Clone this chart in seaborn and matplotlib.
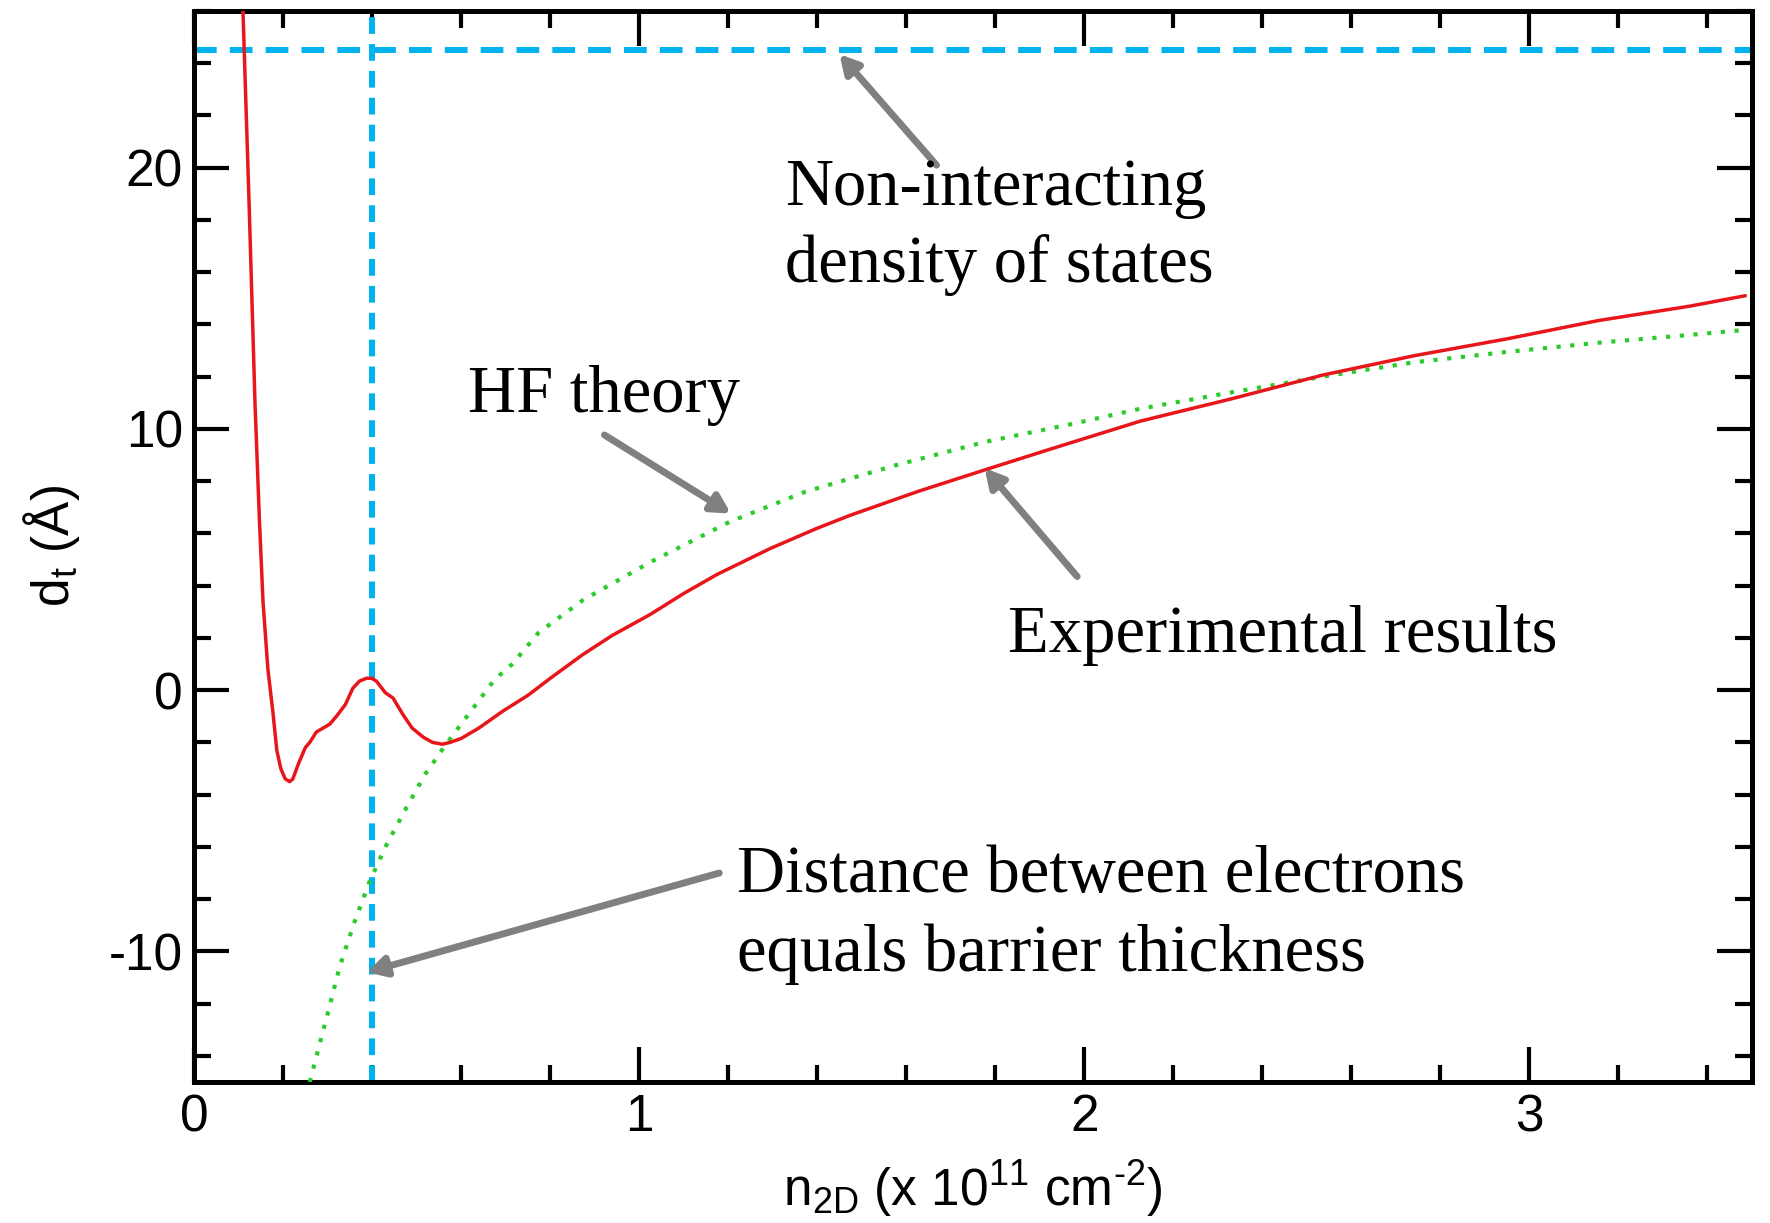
import numpy as np
import pandas as pd
import matplotlib
matplotlib.use("Agg")
import matplotlib.pyplot as plt
import seaborn as sns
from matplotlib.ticker import MultipleLocator

# ---------------- data ----------------
n_exp = [0.110, 0.124, 0.137, 0.147, 0.155, 0.166, 0.177, 0.186, 0.195, 0.205,
         0.215, 0.222, 0.235, 0.250, 0.260, 0.275, 0.290, 0.305, 0.320, 0.340,
         0.357, 0.372, 0.388, 0.400, 0.410, 0.430, 0.447, 0.470, 0.490, 0.515,
         0.536, 0.558, 0.575, 0.600, 0.640, 0.694, 0.750, 0.800, 0.874, 0.940,
         1.025, 1.100, 1.175, 1.294, 1.400, 1.475, 1.625, 1.776, 1.926, 2.126,
         2.330, 2.535, 2.740, 2.950, 3.155, 3.360, 3.485]
d_exp = [26.0, 18.5, 11.0, 6.5, 3.4, 0.8, -0.8, -2.3, -3.0, -3.4,
         -3.5, -3.4, -2.8, -2.2, -2.0, -1.6, -1.45, -1.3, -1.0, -0.55,
         0.08, 0.35, 0.46, 0.45, 0.34, -0.1, -0.3, -0.95, -1.45, -1.8,
         -2.0, -2.07, -2.0, -1.85, -1.45, -0.8, -0.2, 0.45, 1.37, 2.1,
         2.9, 3.7, 4.43, 5.42, 6.2, 6.7, 7.6, 8.43, 9.24, 10.3,
         11.15, 12.06, 12.8, 13.45, 14.15, 14.7, 15.1]

n_hf = [0.260, 0.300, 0.327, 0.360, 0.395, 0.433, 0.477, 0.520, 0.567, 0.620,
        0.675, 0.715, 0.774, 0.874, 1.025, 1.204, 1.374, 1.574, 1.776, 1.975,
        2.125, 2.330, 2.535, 2.740, 2.950, 3.155, 3.360, 3.490]
d_hf = [-15.0, -12.4, -10.6, -8.9, -7.3, -5.9, -4.5, -3.2, -2.05, -0.85,
        0.4, 1.0, 2.2, 3.45, 4.9, 6.45, 7.6, 8.6, 9.5, 10.2,
        10.77, 11.4, 12.0, 12.55, 12.95, 13.3, 13.6, 13.8]

d_noninteracting = 24.5      # horizontal dashed line
n_barrier = 0.40             # vertical dashed line

x_ticks = [0, 1, 2, 3]
y_ticks = [-10, 0, 10, 20]

# ---------------- style ----------------
sns.set_theme(style="ticks")
plt.rcParams["font.family"] = ["Liberation Sans", "DejaVu Sans"]
plt.rcParams["mathtext.fontset"] = "custom"
plt.rcParams["mathtext.rm"] = "Liberation Sans"

W, H = 1770, 1223
fig = plt.figure(figsize=(W / 100, H / 100), dpi=100)
fig.patch.set_facecolor("white")
ax = fig.add_axes([194 / W, 1 - 1082 / H, (1752 - 194) / W, (1082 - 11) / H])
ax.set_facecolor("white")

df_exp = pd.DataFrame({"n": n_exp, "d": d_exp})
df_hf = pd.DataFrame({"n": n_hf, "d": d_hf})

blue = "#00B2EE"
ax.axhline(d_noninteracting, color=blue, lw=4.3, linestyle=(0, (3.8, 2.2)), zorder=2)
ax.axvline(n_barrier, color=blue, lw=4.3, linestyle=(0, (2.8, 1.7)), zorder=2)

sns.lineplot(data=df_hf, x="n", y="d", ax=ax, color="#2BCB2B", lw=3.0,
             linestyle=(0, (1, 2.3)), zorder=3)
sns.lineplot(data=df_exp, x="n", y="d", ax=ax, color="#E8161B", lw=2.5, zorder=4)

ax.set_xlim(0, 3.5)
ax.set_ylim(-15, 26)
ax.set_xticks(x_ticks)
ax.set_yticks(y_ticks)
ax.set_xticklabels([str(t) for t in x_ticks])
ax.set_yticklabels([str(t) for t in y_ticks])
ax.xaxis.set_minor_locator(MultipleLocator(0.2))
ax.yaxis.set_minor_locator(MultipleLocator(2))
ax.tick_params(which="both", direction="in", top=True, right=True,
               color="black", width=3.0)
ax.tick_params(which="major", length=25, labelsize=37, pad=8, labelcolor="black")
ax.tick_params(which="minor", length=12.5)
for sp in ax.spines.values():
    sp.set_visible(True)
    sp.set_color("black")
    sp.set_linewidth(3.6)

ax.set_xlabel("n$_{\\mathregular{2D}}$ (x 10$^{\\mathregular{11}}$ cm$^{\\mathregular{\u20102}}$)",
              fontsize=37, color="black")
ax.set_ylabel(r"d$_{\mathregular{t}}$ (Å)", fontsize=37, color="black")
ax.xaxis.set_label_coords(0.5, -0.071)
ax.yaxis.set_label_coords(-0.072, 0.5)

# ---------------- annotations ----------------
serif = ["Liberation Serif", "DejaVu Serif"]
def ftext(x, y, s):
    fig.text(x / W, 1 - y / H, s, fontsize=48, family=serif, color="black",
             ha="left", va="baseline")

ftext(785, 205, "Non-interacting")
ftext(785, 282, "density of states")
ftext(468, 412, "HF theory")
ftext(1008, 652, "Experimental results")
ftext(737, 892, "Distance between electrons")
ftext(737, 971, "equals barrier thickness")

arrow_kw = dict(arrowstyle="-|>,head_length=0.55,head_width=0.3", color="#808080",
                lw=5, shrinkA=0, shrinkB=0, mutation_scale=20)
arrows = [((1.45, 24.35), (1.668, 20.1)),
          ((1.206, 6.76), (0.922, 9.77)),
          ((1.776, 8.5), (1.984, 4.35)),
          ((0.388, -10.8), (1.18, -7.0))]
for head, tail in arrows:
    ax.annotate("", xy=head, xytext=tail, xycoords="data", textcoords="data",
                arrowprops=arrow_kw, zorder=5)

fig.savefig("out.png", dpi=100, facecolor="white")
